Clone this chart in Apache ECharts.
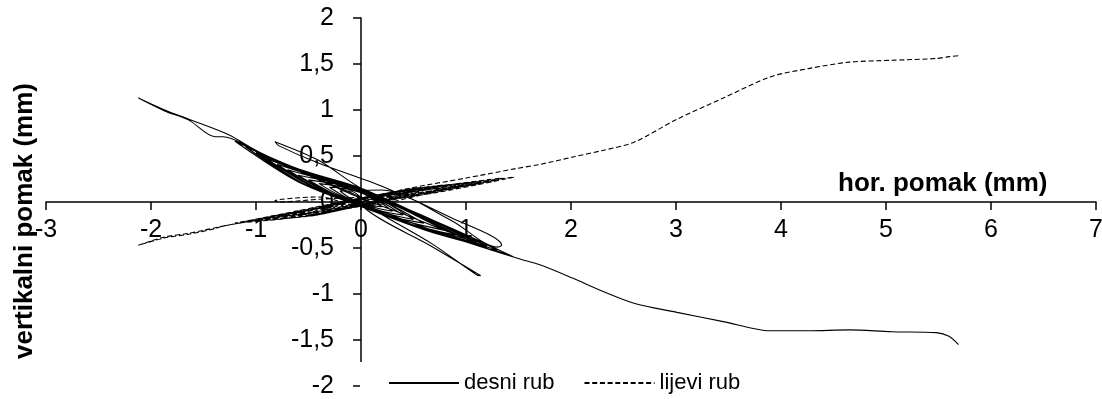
<!DOCTYPE html>
<html>
<head>
<meta charset="utf-8">
<script src="https://cdn.jsdelivr.net/npm/echarts@6/dist/echarts.min.js"></script>
<style>
html,body{margin:0;padding:0;background:#fff;}
#chart{width:1102px;height:399px;}
</style>
</head>
<body>
<div id="chart"></div>
<script>
// horizontal displacement (mm), shared by both measured edges
const horPomak = [
  0,
  -0.1,-0.2,-0.1,0,0.1,0.2,0.1,0,
  -0.15,-0.3,-0.15,0,0.15,0.3,0.15,0,
  -0.2,-0.4,-0.2,0,0.2,0.4,0.2,0,
  -0.25,-0.5,-0.25,0,0.25,0.5,0.25,0,
  -0.3,-0.6,-0.3,0,0.3,0.6,0.3,0,
  -0.35,-0.7,-0.35,0,0.4,0.8,0.4,0,
  -0.4,-0.8,-0.4,0,0.45,0.9,0.45,0,
  -0.45,-0.9,-0.45,0,0.5,1.0,0.5,0,
  -0.5,-1.0,-0.5,0,0.55,1.1,0.55,0,
  -0.55,-1.1,-0.55,0,0.6,1.2,0.6,0,
  -0.6,-1.2,-0.6,0,0.65,1.3,0.65,0,
  -0.4,-0.82,-0.78,-0.4,0.2,0.86,1.34,1.3,0.86,0.2,0,
  0.03,0.67,1.14,1.1,0.67,0.15,0,
  -0.5,-1.0,-0.5,0,0.73,1.46,0.73,0,
  -0.5,-1.0,-1.26,-1.64,-1.87,-2.12,-1.87,-1.64,-1.39,-1.31,-1.1,-0.8,-0.4,0,
  0.38,1.0,1.46,1.71,2.02,2.3,2.6,3.01,3.45,3.9,4.26,4.65,5.05,5.48,5.6,5.69
];
// vertical displacement, right edge ("desni rub")
const desniRub = [
  0.05,
  0.12,0.12,0.04,0.0,-0.04,-0.05,0.04,0.1,
  0.145,0.16,0.055,-0.01,-0.065,-0.1,0.025,0.11,
  0.17,0.2,0.07,-0.02,-0.1,-0.14,0.0,0.12,
  0.195,0.24,0.085,-0.02,-0.125,-0.19,-0.015,0.12,
  0.22,0.29,0.1,-0.03,-0.16,-0.23,-0.04,0.13,
  0.24,0.35,0.12,-0.03,-0.2,-0.31,-0.08,0.13,
  0.265,0.41,0.135,-0.03,-0.23,-0.36,-0.1,0.14,
  0.285,0.47,0.155,-0.04,-0.255,-0.4,-0.125,0.14,
  0.31,0.53,0.17,-0.04,-0.28,-0.44,-0.14,0.15,
  0.335,0.6,0.195,-0.05,-0.3,-0.48,-0.16,0.15,
  0.36,0.66,0.22,-0.05,-0.32,-0.52,-0.18,0.15,
  0.45,0.655,0.61,0.42,0.17,-0.17,-0.47,-0.49,-0.2,0.13,0.12,
  -0.06,-0.48,-0.8,-0.79,-0.45,-0.1,0.05,
  0.29,0.54,0.19,-0.02,-0.33,-0.6,-0.22,0.1,
  0.3,0.56,0.73,0.9,1.0,1.13,0.99,0.89,0.71,0.71,0.62,0.44,0.24,0.04,
  -0.12,-0.4,-0.6,-0.685,-0.83,-0.97,-1.1,-1.2,-1.3,-1.4,-1.4,-1.39,-1.41,-1.42,-1.46,-1.55
];
// vertical displacement, left edge ("lijevi rub")
const lijeviRub = [
  0,
  -0.04,-0.05,0.0,0.02,0.04,0.05,0.0,-0.02,
  -0.055,-0.075,-0.015,0.02,0.055,0.07,0.015,-0.025,
  -0.075,-0.1,-0.025,0.025,0.075,0.09,0.025,-0.025,
  -0.085,-0.12,-0.035,0.03,0.085,0.11,0.035,-0.03,
  -0.105,-0.13,-0.045,0.03,0.1,0.125,0.04,-0.03,
  -0.115,-0.145,-0.055,0.035,0.12,0.15,0.06,-0.035,
  -0.13,-0.155,-0.07,0.035,0.13,0.165,0.07,-0.035,
  -0.145,-0.17,-0.075,0.04,0.145,0.18,0.075,-0.04,
  -0.155,-0.19,-0.085,0.04,0.155,0.2,0.085,-0.04,
  -0.16,-0.21,-0.09,0.045,0.16,0.22,0.09,-0.045,
  -0.165,-0.23,-0.095,0.045,0.165,0.24,0.095,-0.045,
  0.055,0.014,0.0,0.03,0.07,0.19,0.26,0.24,0.17,0.06,0.0,
  0.01,0.12,0.2,0.19,0.14,0.04,0.0,
  -0.15,-0.19,-0.09,0.035,0.165,0.27,0.105,-0.02,
  -0.12,-0.2,-0.25,-0.34,-0.38,-0.47,-0.39,-0.35,-0.29,-0.26,-0.22,-0.16,-0.1,0.0,
  0.13,0.26,0.36,0.41,0.49,0.56,0.65,0.9,1.13,1.36,1.45,1.52,1.54,1.56,1.58,1.59
];
const seriesNames = ['desni rub', 'lijevi rub'];
const xAxisName = 'hor. pomak (mm)';
const yAxisName = 'vertikalni pomak (mm)';

const pairs = ys => horPomak.map((x, i) => [x, ys[i]]);
const font = "'Liberation Sans', Arial, sans-serif";

const chart = echarts.init(document.getElementById('chart'), null, {renderer: 'canvas'});
chart.setOption({
  animation: false,
  backgroundColor: '#fff',
  grid: {left: 46, right: 6, top: 18, bottom: 13, containLabel: false, outerBoundsMode: 'none'},
  xAxis: {
    type: 'value', min: -3, max: 7, interval: 1,
    position: 'bottom', offset: -184,
    name: xAxisName, nameLocation: 'end', nameGap: -258,
    nameTextStyle: {fontFamily: font, fontWeight: 'bold', fontSize: 26, color: '#000',
      align: 'left', verticalAlign: 'bottom', padding: [0, 0, 5, 0]},
    axisLine: {onZero: false, lineStyle: {color: '#000', width: 1.5}},
    axisTick: {show: true, length: 8, lineStyle: {color: '#000', width: 1.5}},
    axisLabel: {fontFamily: font, fontSize: 25, color: '#000', margin: 16},
    splitLine: {show: false}
  },
  yAxis: {
    type: 'value', min: -2, max: 2, interval: 0.5,
    position: 'left', offset: -315,
    name: yAxisName, nameLocation: 'middle', nameRotate: 90, nameGap: 323,
    nameTextStyle: {fontFamily: font, fontWeight: 'bold', fontSize: 26, color: '#000',
      padding: [0, 38, 0, 0]},
    axisLine: {onZero: false, lineStyle: {color: '#000', width: 1.5}},
    axisTick: {show: true, length: 8, lineStyle: {color: '#000', width: 1.5}},
    axisLabel: {fontFamily: font, fontSize: 25, color: '#000', margin: 27,
      formatter: v => String(v).replace('.', ',')},
    splitLine: {show: false}
  },
  legend: {
    data: seriesNames,
    left: 360, top: 362,
    padding: [10, 20, 12, 28],
    backgroundColor: '#fff',
    itemWidth: 70, itemHeight: 14, itemGap: 29,
    itemStyle: {opacity: 0, borderWidth: 0},
    textStyle: {fontFamily: font, fontSize: 22, color: '#000'},
    z: 10
  },
  series: [
    {name: seriesNames[0], type: 'line', data: pairs(desniRub), symbol: 'none', showSymbol: false,
      smooth: 0.3,
      lineStyle: {color: '#000', width: 1.1, type: 'solid'}, itemStyle: {color: '#000'}},
    {name: seriesNames[1], type: 'line', data: pairs(lijeviRub), symbol: 'none', showSymbol: false,
      smooth: 0.3,
      lineStyle: {color: '#000', width: 1.1, type: [5, 2.7]}, itemStyle: {color: '#000'}}
  ]
});
</script>
</body>
</html>
